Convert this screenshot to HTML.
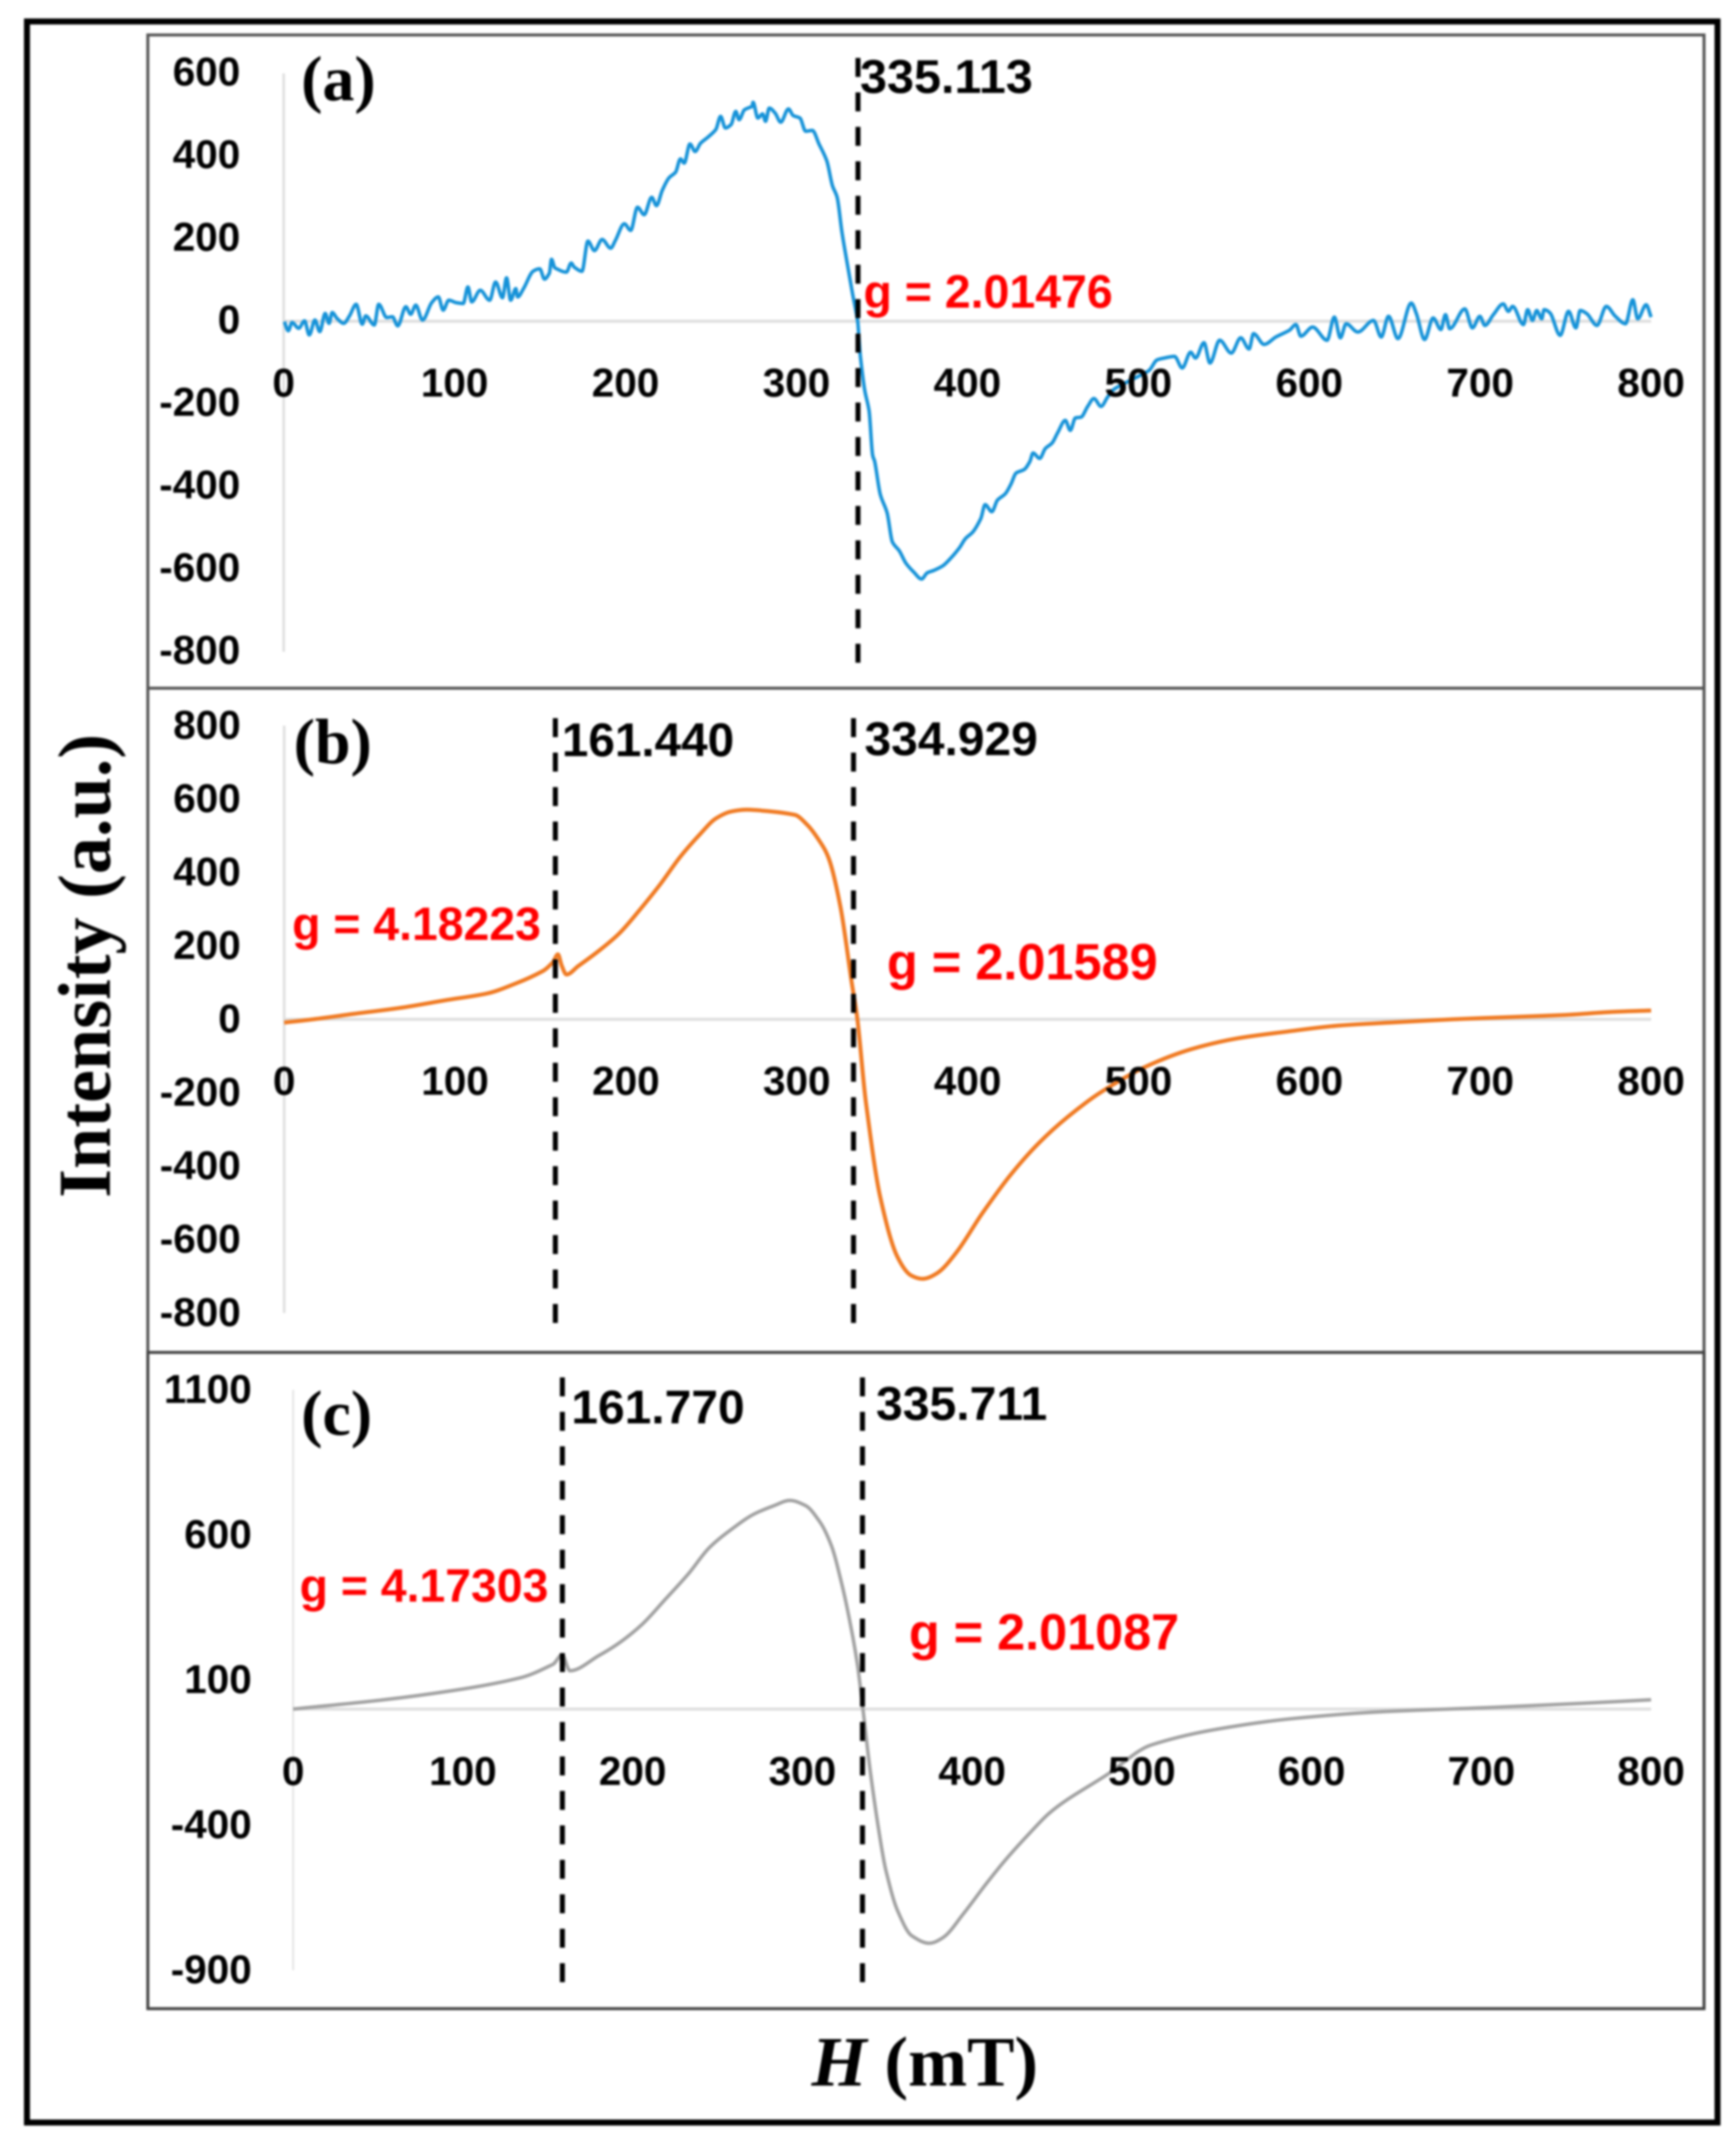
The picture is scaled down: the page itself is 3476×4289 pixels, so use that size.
<!DOCTYPE html>
<html lang="en">
<head>
<meta charset="utf-8">
<title>EPR spectra panels (a), (b), (c)</title>
<style>
html,body{margin:0;padding:0;background:#fff;width:3476px;height:4289px;overflow:hidden}
svg{display:block;filter:blur(2px)}
.tick{font-family:"Liberation Sans",sans-serif;font-weight:700;font-size:81px;fill:#000}
.peak{font-family:"Liberation Sans",sans-serif;font-weight:700;font-size:95px;fill:#000}
.gval{font-family:"Liberation Sans",sans-serif;font-weight:700;font-size:94px;fill:#f00}
.gbig{font-family:"Liberation Sans",sans-serif;font-weight:700;font-size:102px;fill:#f00}
.tag{font-family:"Liberation Serif",serif;font-weight:700;font-size:128px;fill:#000}
.axt{font-family:"Liberation Serif",serif;font-weight:700;fill:#000}
</style>
</head>
<body>
<svg id="figure" xmlns="http://www.w3.org/2000/svg" width="3476" height="4289" viewBox="0 0 3476 4289">
  <rect x="0" y="0" width="3476" height="4289" fill="#fff"/>
  <rect x="54" y="43" width="3385" height="4207" fill="none" stroke="#000" stroke-width="12"/>
  <rect x="296" y="70" width="3116" height="1308" fill="none" stroke="#555" stroke-width="6"/>
  <rect x="296" y="1378" width="3116" height="1330" fill="none" stroke="#555" stroke-width="6"/>
  <rect x="296" y="2708" width="3116" height="1314" fill="none" stroke="#444" stroke-width="6"/>
  <g id="charts"></g>

  <text class="tag" x="603" y="201">(a)</text>
  <text class="peak" x="1722" y="186" textLength="346" lengthAdjust="spacingAndGlyphs">335.113</text>
  <text class="gval" x="1729" y="616" textLength="499" lengthAdjust="spacingAndGlyphs">g = 2.01476</text>

  <text class="tag" x="588" y="1528">(b)</text>
  <text class="peak" x="1125" y="1514" textLength="345" lengthAdjust="spacingAndGlyphs">161.440</text>
  <text class="peak" x="1731" y="1512" textLength="347" lengthAdjust="spacingAndGlyphs">334.929</text>
  <text class="gval" x="585" y="1882" textLength="498" lengthAdjust="spacingAndGlyphs">g = 4.18223</text>
  <text class="gbig" x="1776" y="1961" textLength="542" lengthAdjust="spacingAndGlyphs">g = 2.01589</text>

  <text class="tag" x="603" y="2873">(c)</text>
  <text class="peak" x="1144" y="2850" textLength="347" lengthAdjust="spacingAndGlyphs">161.770</text>
  <text class="peak" x="1754" y="2843" textLength="343" lengthAdjust="spacingAndGlyphs">335.711</text>
  <text class="gval" x="600" y="3207" textLength="498" lengthAdjust="spacingAndGlyphs">g = 4.17303</text>
  <text class="gbig" x="1820" y="3303" textLength="541" lengthAdjust="spacingAndGlyphs">g = 2.01087</text>

  <text class="axt" font-size="150" text-anchor="middle" textLength="929" lengthAdjust="spacingAndGlyphs" transform="translate(220 1934) rotate(-90)">Intensity (a.u.)</text>
  <text class="axt" font-size="142" x="1625" y="4176"><tspan font-style="italic">H</tspan> (mT)</text>
</svg>
<script>
const xTickLabels = [0, 100, 200, 300, 400, 500, 600, 700, 800];
const yTicksA = [600, 400, 200, 0, -200, -400, -600, -800];
const yTicksB = [800, 600, 400, 200, 0, -200, -400, -600, -800];
const yTicksC = [1100, 600, 100, -400, -900];

const fieldA = [0.4,2.7,4.9,8.8,12.2,15,18.3,21.1,24.3,26.5,28.4,31.2,35.1,38.5,42.4,46,48,53,55.6,60.3,63.6,66.7,71.5,74.3,77.3,81.2,86.6,90.5,93.3,96.6,101,105,107.8,110,115,120.5,124,128,130.4,132.8,135.8,136.9,140.3,145.9,149.8,152.6,155.4,156.7,158.7,165.4,168.2,170,174.5,178,181.8,186.3,191.3,194.1,199.3,203,207,210.9,215.3,218.1,221.5,225.4,229.3,232.1,234.3,237.7,240.7,243.9,248.3,252.8,255.6,258.4,261.7,264.5,266.4,269.6,274,274.6,277.4,280.2,281.9,284.1,287.5,290.8,295.3,298.1,302,305.4,309.3,313.2,317.7,321,323.8,326.6,329.4,332.8,335.8,337.3,339.9,342.5,344.5,345.8,349.1,353,356.2,360.2,364.1,368.6,373.2,376.5,380.4,385.6,390.8,395.4,398.9,403.2,407.8,410.4,414.3,417.6,422.1,425.4,428.6,433.2,436.5,438.4,442.3,445.6,449.5,452.8,457.3,460.2,463.2,466.5,470.4,474,478.2,482.1,486,492.5,499.7,506.3,510.8,514.1,521.2,525.7,530.6,533.5,538.4,541.9,547.6,554.4,559.9,564.8,567.4,573.6,580.5,588.3,592.2,595.1,602,610.4,614.7,618.2,621.6,628.4,637.6,642.1,646.4,651.9,659.7,662.7,667.5,672.5,677,679.7,682.2,691,695.5,699.8,702.8,707.7,713.5,716.5,719,725.3,727.8,730.6,733.1,736,737.4,740.9,746.8,751.7,756,758.5,762.5,768.3,773.8,779.1,785,789.3,792.2,797.1,800];
const intensityA = [-1,-23,-3,-17,1,-33,3,-25,19,-5,21,7,-5,13,41,-7,13,-9,41,9,11,-11,35,17,39,3,45,59,27,51,45,43,83,47,75,51,95,57,105,51,79,59,79,121,127,102,116,150,129,119,141,131,121,194,171,198,177,196,236,220,276,258,300,280,317,347,361,393,383,429,411,431,446,464,496,468,476,508,488,512,520,530,492,502,484,516,504,482,514,498,492,460,462,429,389,329,300,216,147,67,0,-81,-166,-217,-323,-340,-420,-463,-535,-556,-586,-607,-624,-609,-603,-592,-571,-548,-526,-510,-478,-444,-461,-433,-418,-395,-367,-359,-340,-319,-332,-308,-295,-270,-240,-264,-234,-232,-206,-187,-206,-183,-164,-149,-134,-119,-94,-90,-85,-113,-75,-89,-52,-101,-46,-77,-40,-67,-30,-56,-38,-22,-8,-36,-14,-46,10,-40,-6,-26,2,-38,12,-42,44,18,-44,8,-20,16,-18,30,-16,12,-10,16,42,24,36,-8,28,2,26,6,28,20,-34,24,-16,26,18,-10,36,12,-6,52,6,40,10];

const fieldB = [0,17,40.9,67.7,94.5,118.4,136.3,151.2,157.2,160.2,162.5,165.2,172.1,184,195.9,207.9,219.8,231.7,243.7,252.6,261.6,270.5,285.4,298.8,306.3,313.7,318.9,325.5,332.2,335.5,340.5,348.8,358.7,367,373.6,382,393.6,408.5,425.1,441.7,458.3,478.2,504.7,531.2,557.8,584.3,617.5,650.7,683.9,717.1,750.2,776.8,800];
const intensityB = [-9,0,15,31,52,70,99,131,155,177,145,122,145,186,233,297,366,442,506,547,566,571,566,557,529,483,436,308,99,0,-227,-483,-645,-698,-707,-692,-634,-529,-424,-337,-267,-198,-128,-81,-52,-35,-17,-8,0,6,12,20,24];

const fieldC = [0,55,101,134,153,158.5,163,180.3,192.1,205.6,219.2,232.7,245.3,259.7,271.5,283.3,292.6,301.9,310.4,317.1,323,328.1,332.3,335.7,339.9,345,349.2,356,364.4,374.6,383,394.8,408.3,420.2,433.7,445.2,456.6,479.5,505.5,544.7,590.3,642.5,707.8,759.9,800];
const intensityC = [0,33,70,108,154,187,132,185,228,292,378,465,557,626,672,701,719,701,644,563,436,298,159,-2,-210,-418,-556,-694,-781,-807,-787,-706,-602,-516,-429,-360,-310,-226,-124,-69,-32,-9,6,20,32];

const markersA = [336];
const markersB = [158.7, 333.2];
const markersC = [158.6, 335.4];

const NS = 'http://www.w3.org/2000/svg';
const layer = document.getElementById('charts');

function linear(d0, d1, r0, r1) {
  return function (v) { return r0 + (v - d0) * (r1 - r0) / (d1 - d0); };
}

// Monotone cubic path through the supplied screen points, so no overshoot at peaks.
function smoothPath(xs, ys) {
  const n = xs.length;
  const slopes = [];
  for (let i = 0; i < n - 1; i++) {
    slopes.push((ys[i + 1] - ys[i]) / (xs[i + 1] - xs[i]));
  }
  const tangents = [slopes[0]];
  for (let i = 1; i < n - 1; i++) {
    if (slopes[i - 1] * slopes[i] <= 0) {
      tangents.push(0);
    } else {
      const w1 = xs[i + 1] - xs[i];
      const w0 = xs[i] - xs[i - 1];
      tangents.push((w0 + w1) / (w0 / slopes[i - 1] + w1 / slopes[i]));
    }
  }
  tangents.push(slopes[n - 2]);
  let d = 'M' + xs[0].toFixed(1) + ',' + ys[0].toFixed(1);
  for (let i = 0; i < n - 1; i++) {
    const h = (xs[i + 1] - xs[i]) / 3;
    d += 'C' + (xs[i] + h).toFixed(1) + ',' + (ys[i] + tangents[i] * h).toFixed(1) + ' ' +
      (xs[i + 1] - h).toFixed(1) + ',' + (ys[i + 1] - tangents[i + 1] * h).toFixed(1) + ' ' +
      xs[i + 1].toFixed(1) + ',' + ys[i + 1].toFixed(1);
  }
  return d;
}

function drawPanel(p) {
  const sx = linear(0, 800, p.x0, p.x1);
  const sy = linear(p.dTop, p.dBottom, p.yTop, p.yBottom);

  const yAxis = document.createElementNS(NS, 'line');
  
  
  yAxis.setAttribute('x1', sx(0));
  yAxis.setAttribute('x2', sx(0));
  yAxis.setAttribute('y1', p.yTop);
  yAxis.setAttribute('y2', p.yBottom);
  yAxis.setAttribute('stroke', '#dedede');
  yAxis.setAttribute('stroke-width', p.axisWidth);
  layer.appendChild(yAxis);

  const xAxis = document.createElementNS(NS, 'line');
  
  
  xAxis.setAttribute('x1', sx(0));
  xAxis.setAttribute('x2', sx(800));
  xAxis.setAttribute('y1', sy(0));
  xAxis.setAttribute('y2', sy(0));
  xAxis.setAttribute('stroke', '#dedede');
  xAxis.setAttribute('stroke-width', 6);
  layer.appendChild(xAxis);

  const curve = document.createElementNS(NS, 'path');
  
  
  curve.setAttribute('d', smoothPath(p.field.map(sx), p.values.map(sy)));
  curve.setAttribute('fill', 'none');
  curve.setAttribute('stroke', p.color);
  curve.setAttribute('stroke-width', p.lineWidth);
  curve.setAttribute('stroke-linejoin', 'round');
  layer.appendChild(curve);

  p.markers.forEach(function (m) {
    const dash = document.createElementNS(NS, 'line');
    
    
    dash.setAttribute('x1', sx(m));
    dash.setAttribute('x2', sx(m));
    dash.setAttribute('y1', p.dashTop);
    dash.setAttribute('y2', p.dashBottom);
    dash.setAttribute('stroke', '#000');
    dash.setAttribute('stroke-width', 10);
    dash.setAttribute('stroke-dasharray', '38 31');
    layer.appendChild(dash);
  });

  xTickLabels.forEach(function (t) {
    const label = document.createElementNS(NS, 'text');
    
    
    label.setAttribute('class', 'tick');
    label.setAttribute('x', sx(t));
    label.setAttribute('y', p.xLabelBase);
    label.setAttribute('text-anchor', 'middle');
    label.textContent = t;
    layer.appendChild(label);
  });

  p.yTicks.forEach(function (t) {
    const label = document.createElementNS(NS, 'text');
    
    
    label.setAttribute('class', 'tick');
    label.setAttribute('x', p.yLabelRight);
    label.setAttribute('y', sy(t) + p.yLabelShift);
    label.setAttribute('text-anchor', 'end');
    label.textContent = t;
    layer.appendChild(label);
  });
}

drawPanel({ x0: 568, x1: 3306, dTop: 600, dBottom: -800, yTop: 147, yBottom: 1305,
  field: fieldA, values: intensityA, markers: markersA, yTicks: yTicksA, color: '#1592d8', lineWidth: 7,
  axisWidth: 5, dashTop: 116, dashBottom: 1332, xLabelBase: 794, yLabelRight: 481, yLabelShift: 24 });
drawPanel({ x0: 569, x1: 3306, dTop: 800, dBottom: -800, yTop: 1453, yBottom: 2629,
  field: fieldB, values: intensityB, markers: markersB, yTicks: yTicksB, color: '#f07a22', lineWidth: 8,
  axisWidth: 5, dashTop: 1438, dashBottom: 2656, xLabelBase: 2192, yLabelRight: 482, yLabelShift: 26 });
drawPanel({ x0: 587, x1: 3306, dTop: 1100, dBottom: -900, yTop: 2783, yBottom: 3945,
  field: fieldC, values: intensityC, markers: markersC, yTicks: yTicksC, color: '#a2a2a2', lineWidth: 7,
  axisWidth: 3, dashTop: 2758, dashBottom: 3975, xLabelBase: 3574, yLabelRight: 504, yLabelShift: 26 });
</script>
</body>
</html>
